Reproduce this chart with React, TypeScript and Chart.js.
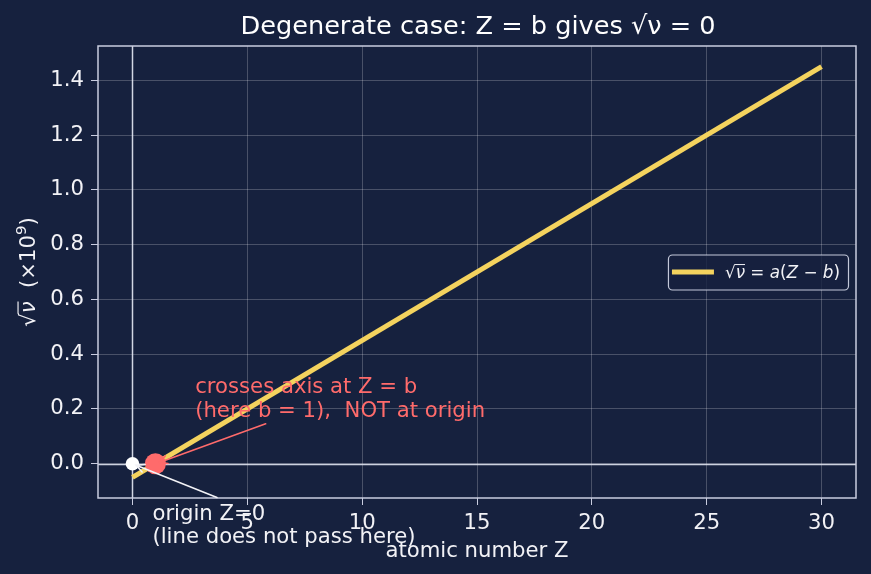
import React, { useEffect, useRef } from "react";
import { Chart, registerables } from "chart.js";

Chart.register(...registerables);

// ---- data ----
const lineZ = [0, 30];
const lineSqrtNu = [-0.05, 1.45];
const crossZ = [1];
const crossY = [0];
const originZ = [0];
const originY = [0];
const xTicks = [0, 5, 10, 15, 20, 25, 30];
const yTicks = [0, 0.2, 0.4, 0.6, 0.8, 1.0, 1.2, 1.4];
const xRange = [-1.5, 31.5];
const yRange = [-0.125, 1.525];

const titleText = "Degenerate case: Z = b gives \u221A\u03BD = 0";
const xTitle = "atomic number Z";
const redNote = ["crosses axis at Z = b", "(here b = 1),  NOT at origin"];
const whiteNote = ["origin Z=0", "(line does not pass here)"];
const redNoteAt = { x: 2.73, y: 0.258 };
const redArrowFrom = { x: 5.8, y: 0.146 };
const whiteNoteAt = { x: 0.87, y: -0.204 };
const whiteArrowFrom = { x: 3.68, y: -0.123 };

// ---- styles ----
const BG = "#16213e";
const FONT = '"DejaVu Sans", sans-serif';
const YELLOW = "#f4d35e";
const RED = "#ff6b6b";
const WHITE = "#f2f2f6";
const FRAME = "#c9cde0";
const GRID = "rgba(255,255,255,0.22)";
const BASE = 21.2;

type Seg = { t: string; it?: boolean; sup?: boolean; over?: boolean };

function segFont(size: number, s: Seg) {
  const sz = s.sup ? size * 0.7 : size;
  return `${s.it ? "italic " : ""}${sz}px ${FONT}`;
}
function segsWidth(ctx: CanvasRenderingContext2D, segs: Seg[], size: number) {
  let w = 0;
  for (const s of segs) {
    ctx.font = segFont(size, s);
    w += ctx.measureText(s.t).width;
  }
  return w;
}
function drawSegs(ctx: CanvasRenderingContext2D, segs: Seg[], x: number, y: number, size: number, color: string) {
  let cx = x;
  ctx.fillStyle = color;
  ctx.textAlign = "left";
  ctx.textBaseline = "alphabetic";
  for (const s of segs) {
    ctx.font = segFont(size, s);
    const w = ctx.measureText(s.t).width;
    const yy = s.sup ? y - size * 0.42 : y;
    ctx.fillText(s.t, cx, yy);
    if (s.over) {
      ctx.beginPath();
      ctx.moveTo(cx - 0.5, y - size * 0.8);
      ctx.lineTo(cx + w, y - size * 0.8);
      ctx.lineWidth = Math.max(1, size * 0.055);
      ctx.strokeStyle = color;
      ctx.stroke();
    }
    cx += w;
  }
}

const legendSegs: Seg[] = [
  { t: "\u221A" },
  { t: "\u03BD", it: true, over: true },
  { t: " = " },
  { t: "a", it: true },
  { t: "(" },
  { t: "Z", it: true },
  { t: " \u2212 " },
  { t: "b", it: true },
  { t: ")" },
];
const yTitleSegs: Seg[] = [
  { t: "\u221A" },
  { t: "\u03BD", it: true, over: true },
  { t: "  (\u00D710" },
  { t: "9", sup: true },
  { t: ")" },
];

function arrow(ctx: CanvasRenderingContext2D, x0: number, y0: number, x1: number, y1: number, shrink: number, color: string) {
  const dx = x1 - x0, dy = y1 - y0;
  const len = Math.hypot(dx, dy);
  const ux = dx / len, uy = dy / len;
  const ex = x1 - ux * shrink, ey = y1 - uy * shrink;
  ctx.save();
  ctx.strokeStyle = color;
  ctx.lineWidth = 1.6;
  ctx.lineCap = "round";
  ctx.beginPath();
  ctx.moveTo(x0, y0);
  ctx.lineTo(ex, ey);
  const hl = 8, hw = 4;
  ctx.moveTo(ex - ux * hl - uy * hw, ey - uy * hl + ux * hw);
  ctx.lineTo(ex, ey);
  ctx.lineTo(ex - ux * hl + uy * hw, ey - uy * hl - ux * hw);
  ctx.stroke();
  ctx.restore();
}

const decorPlugin = {
  id: "decor",
  beforeDraw(chart: any) {
    const ctx = chart.ctx as CanvasRenderingContext2D;
    ctx.save();
    ctx.fillStyle = BG;
    ctx.fillRect(0, 0, chart.width, chart.height);
    ctx.restore();
  },
  beforeDatasetsDraw(chart: any) {
    const ctx = chart.ctx as CanvasRenderingContext2D;
    const { left, right, top, bottom } = chart.chartArea;
    const xs = chart.scales.x, ys = chart.scales.y;
    const x0 = Math.round(xs.getPixelForValue(0)) + 0.5;
    const y0 = Math.round(ys.getPixelForValue(0)) + 0.5;
    ctx.save();
    ctx.strokeStyle = "rgba(225,229,242,0.9)";
    ctx.lineWidth = 1.5;
    ctx.beginPath();
    ctx.moveTo(left, y0);
    ctx.lineTo(right, y0);
    ctx.moveTo(x0, top);
    ctx.lineTo(x0, bottom);
    ctx.stroke();
    ctx.restore();
  },
  afterDraw(chart: any) {
    const ctx = chart.ctx as CanvasRenderingContext2D;
    const { left, right, top, bottom } = chart.chartArea;
    const xs = chart.scales.x, ys = chart.scales.y;
    ctx.save();
    // frame
    ctx.strokeStyle = FRAME;
    ctx.lineWidth = 1.5;
    ctx.strokeRect(left, top, right - left, bottom - top);

    // title
    ctx.fillStyle = "#ffffff";
    ctx.font = `25.6px ${FONT}`;
    ctx.textAlign = "center";
    ctx.textBaseline = "alphabetic";
    ctx.fillText(titleText, (left + right) / 2 + 1, 34);

    // x title
    ctx.fillStyle = WHITE;
    ctx.font = `${BASE}px ${FONT}`;
    ctx.fillText(xTitle, (left + right) / 2, 556.5);

    // y title
    ctx.save();
    const yw = segsWidth(ctx, yTitleSegs, BASE);
    ctx.translate(35, (top + bottom) / 2);
    ctx.rotate(-Math.PI / 2);
    drawSegs(ctx, yTitleSegs, -yw / 2, 0, BASE, WHITE);
    ctx.restore();

    // annotations
    const cx = xs.getPixelForValue(crossZ[0]);
    const cy = ys.getPixelForValue(crossY[0]);
    const ox = xs.getPixelForValue(originZ[0]);
    const oy = ys.getPixelForValue(originY[0]);
    arrow(ctx, xs.getPixelForValue(redArrowFrom.x), ys.getPixelForValue(redArrowFrom.y), cx, cy, 4, RED);
    arrow(ctx, xs.getPixelForValue(whiteArrowFrom.x), ys.getPixelForValue(whiteArrowFrom.y), ox, oy, 4, WHITE);

    ctx.font = `${BASE}px ${FONT}`;
    ctx.textAlign = "left";
    ctx.textBaseline = "alphabetic";
    ctx.fillStyle = RED;
    const rx = xs.getPixelForValue(redNoteAt.x), ry = ys.getPixelForValue(redNoteAt.y);
    redNote.forEach((l, i) => ctx.fillText(l, rx, ry + i * 23.5));
    ctx.fillStyle = WHITE;
    const wx = xs.getPixelForValue(whiteNoteAt.x), wy = ys.getPixelForValue(whiteNoteAt.y);
    whiteNote.forEach((l, i) => ctx.fillText(l, wx, wy + i * 23));

    // legend
    const lSize = 16.8;
    const tw = segsWidth(ctx, legendSegs, lSize);
    const boxW = 4 + 42 + 11 + tw + 8;
    const boxH = 35;
    const bx = right - 8 - boxW;
    const by = (top + bottom) / 2 - boxH / 2;
    ctx.beginPath();
    (ctx as any).roundRect(bx + 0.5, by + 0.5, boxW, boxH, 4);
    ctx.fillStyle = "rgba(22,33,62,0.8)";
    ctx.fill();
    ctx.strokeStyle = "rgba(214,218,234,0.9)";
    ctx.lineWidth = 1.2;
    ctx.stroke();
    ctx.strokeStyle = YELLOW;
    ctx.lineWidth = 5;
    ctx.beginPath();
    ctx.moveTo(bx + 4, by + boxH / 2);
    ctx.lineTo(bx + 46, by + boxH / 2);
    ctx.stroke();
    drawSegs(ctx, legendSegs, bx + 57, by + boxH / 2 + 6, lSize, WHITE);
    ctx.restore();
  },
};

export default function App() {
  const ref = useRef<HTMLCanvasElement>(null);
  useEffect(() => {
    document.body.style.margin = "0";
    document.body.style.background = BG;
    const tickFont = { family: FONT, size: BASE };
    const chart = new Chart(ref.current as HTMLCanvasElement, {
      type: "scatter",
      data: {
        datasets: [
          {
            label: "cross",
            data: crossZ.map((z, i) => ({ x: z, y: crossY[i] })),
            pointRadius: 10.5,
            pointBackgroundColor: RED,
            pointBorderWidth: 0,
            order: 0,
          },
          {
            label: "origin",
            data: originZ.map((z, i) => ({ x: z, y: originY[i] })),
            pointRadius: 6.8,
            pointBackgroundColor: "#ffffff",
            pointBorderWidth: 0,
            order: 1,
          },
          {
            label: "fit",
            data: lineZ.map((z, i) => ({ x: z, y: lineSqrtNu[i] })),
            showLine: true,
            borderColor: YELLOW,
            borderWidth: 5,
            pointRadius: 0,
            order: 2,
          },
        ] as any,
      },
      options: {
        animation: false,
        responsive: false,
        maintainAspectRatio: false,
        layout: { padding: { top: 46, right: 15, left: 0, bottom: 0 } },
        plugins: { legend: { display: false }, tooltip: { enabled: false }, title: { display: false } },
        scales: {
          x: {
            type: "linear",
            min: xRange[0],
            max: xRange[1],
            afterBuildTicks: (s: any) => {
              s.ticks = xTicks.map((v) => ({ value: v }));
            },
            afterFit: (s: any) => {
              s.height = 76;
            },
            grid: { color: GRID, tickColor: FRAME, tickLength: 7, lineWidth: 1 },
            border: { display: false },
            ticks: {
              color: WHITE,
              font: tickFont,
              padding: 6,
              maxRotation: 0,
              autoSkip: false,
              callback: (v: any) => String(v),
            },
          },
          y: {
            type: "linear",
            min: yRange[0],
            max: yRange[1],
            afterBuildTicks: (s: any) => {
              s.ticks = yTicks.map((v) => ({ value: v }));
            },
            afterFit: (s: any) => {
              s.width = 98;
            },
            grid: { color: GRID, tickColor: FRAME, tickLength: 7, lineWidth: 1 },
            border: { display: false },
            ticks: {
              color: WHITE,
              font: tickFont,
              padding: 7,
              autoSkip: false,
              callback: (v: any) => Number(v).toFixed(1),
            },
          },
        },
      } as any,
      plugins: [decorPlugin],
    });
    return () => chart.destroy();
  }, []);
  return <canvas ref={ref} width={871} height={574} style={{ display: "block", width: 871, height: 574 }} />;
}
